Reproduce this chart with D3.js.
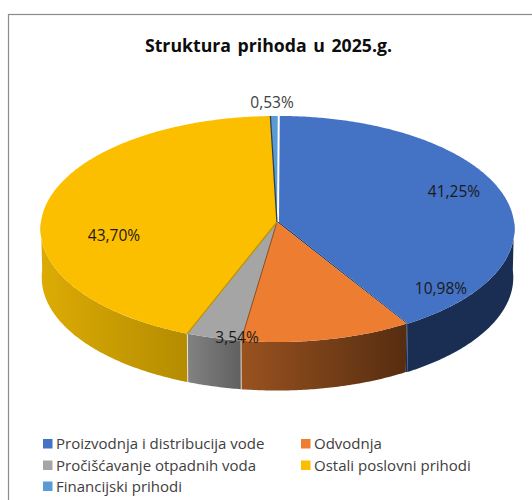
<!DOCTYPE html>
<html><head><meta charset="utf-8">
<script src="https://cdn.jsdelivr.net/npm/d3@7/dist/d3.min.js"></script>
<style>html,body{margin:0;padding:0;background:#fff}svg{display:block}</style>
</head><body><svg id="c" width="532" height="500"></svg>
<script>
const categories = ["Proizvodnja i distribucija vode","Odvodnja","Pročišćavanje otpadnih voda","Ostali poslovni prihodi","Financijski prihodi"];
const shares = [41.25,10.98,3.54,43.70,0.53];
const shareLabels = ["41,25%","10,98%","3,54%","43,70%","0,53%"];
const colors = ["#4472c4","#ed7d31","#a5a5a5","#fcbf00","#5b9bd5"];
const sideLight = ["#1a2e54","#99521f","#828282","#dcab04","#33577a"];
const sideDark = ["#1a2e54","#562d11","#606060","#b48c00","#33577a"];
const edgeColors = ["#1f3560","#8a4a1c","#8a8a8a","#c29600","#2a3f58"];
const sliceShiftX = [2,0,0,0,0];
const sliceRadiusX = [235,236,236,236,236];
const labelAnchors = [[454,191],[441,288],[237,337],[114,235],[272,102]];
const title = "Struktura prihoda u 2025.g.";
const font = "'Open Sans','Noto Sans',sans-serif";

const svg = d3.select("#c");
const cx = 277, cy = 222, Ry = 112.6, k = 0.062, depth = 48.5, rot = 0.2*Math.PI/180;

const proj = (a, dz, i) => {
  const u = Math.sin(a), v = -Math.cos(a), s = 1/(1-k*v);
  const b = dz ? 0.995 : 1;
  return [cx + sliceShiftX[i] + sliceRadiusX[i]*u*s*b, cy + Ry*v*s + (dz||0)];
};
const pie = d3.pie().sort(null).value(d=>d).startAngle(rot).endAngle(2*Math.PI+rot);
const arcs = pie(shares);
const line = d3.line();
const samples = (a0,a1) => { const n = Math.max(2,Math.ceil(Math.abs(a1-a0)/0.01)); return d3.range(n+1).map(i=>a0+(a1-a0)*i/n); };

svg.append("rect").attr("x",8.5).attr("y",14.5).attr("width",540).attr("height",500).attr("fill","#fff").attr("stroke","#8c8c8c").attr("stroke-width",1.2);

svg.append("text").attr("x",268.5).attr("y",52).attr("text-anchor","middle").attr("font-family",font).attr("font-weight",700).attr("font-size",17.7).attr("fill","#0d0d0d").attr("word-spacing",2).text(title);

const defs = svg.append("defs");
// side walls: only the front half of the disc is visible
arcs.forEach((d,i)=>{
  const a0 = Math.max(d.startAngle,Math.PI/2), a1 = Math.min(d.endAngle,3*Math.PI/2);
  if(a1<=a0) return;
  const top = samples(a0,a1).map(a=>proj(a,0,i));
  const bot = samples(a1,a0).map(a=>proj(a,depth,i));
  const xs = top.map(p=>p[0]);
  const g = defs.append("linearGradient").attr("id","g"+i).attr("gradientUnits","userSpaceOnUse")
    .attr("x1",d3.min(xs)).attr("x2",d3.max(xs)).attr("y1",0).attr("y2",0);
  g.append("stop").attr("offset",0).attr("stop-color",sideLight[i]);
  g.append("stop").attr("offset",1).attr("stop-color",sideDark[i]);
  svg.append("path").attr("d",line(top.concat(bot))+"Z").attr("fill",`url(#g${i})`);
});
// dark cut face where the blue slice stands off from the orange one
const cutA = arcs[0].endAngle;
svg.append("path").attr("d",line([proj(cutA,0,0),proj(cutA,depth,0),proj(cutA,depth,1),proj(cutA,0,1)])+"Z").attr("fill",sideDark[0]);
// thin light seams on the gray wall
[arcs[2].startAngle,arcs[2].endAngle].forEach(a=>{
  svg.append("path").attr("d",line([proj(a,0,2),proj(a,depth,2)])).attr("stroke","#fff").attr("stroke-opacity",0.8).attr("stroke-width",0.9).attr("fill","none");
});
svg.append("path").attr("d",line([[cx,cy],proj(cutA,0,1),proj(cutA,0,0),[cx+sliceShiftX[0],cy]])+"Z").attr("fill",sideDark[0]);
// top faces
arcs.forEach((d,i)=>{
  const pts = [[cx+sliceShiftX[i],cy]].concat(samples(d.startAngle,d.endAngle).map(a=>proj(a,0,i)));
  svg.append("path").attr("d",line(pts)+"Z").attr("fill",colors[i]);
});
// cut edges between slices
[[1,1],[2,2]].forEach(([i])=>{
  svg.append("path").attr("d",line([[cx,cy],proj(arcs[i].endAngle,0,i)])).attr("stroke",edgeColors[i]).attr("stroke-width",1).attr("fill","none");
});
svg.append("path").attr("d",line([[cx,cy],proj(arcs[3].startAngle,0,3)])).attr("stroke",edgeColors[3]).attr("stroke-width",1.3).attr("fill","none");
// the small slice: dark cut face on its left
svg.append("path").attr("d",line([[cx,cy],proj(arcs[4].startAngle,0,4)])).attr("stroke",edgeColors[4]).attr("stroke-width",1.3).attr("fill","none");
// labels
shareLabels.forEach((t,i)=>{
  svg.append("text").attr("x",labelAnchors[i][0]).attr("y",labelAnchors[i][1]+5.5).attr("text-anchor","middle")
    .attr("font-family",font).attr("font-size",15.5).attr("fill",i==4?"#404040":"#1a1a1a").text(t);
});
// legend
const legendX = [43,301], legendY = [444,465.5,486.5];
categories.forEach((c,i)=>{
  const col = i%2, row = Math.floor(i/2);
  svg.append("rect").attr("x",legendX[col]).attr("y",legendY[row]-5).attr("width",9.5).attr("height",9.5).attr("fill",colors[i]);
  svg.append("text").attr("x",legendX[col]+13).attr("y",legendY[row]+5).attr("font-family",font).attr("font-size",15).attr("fill","#404040").text(c);
});
</script></body></html>
